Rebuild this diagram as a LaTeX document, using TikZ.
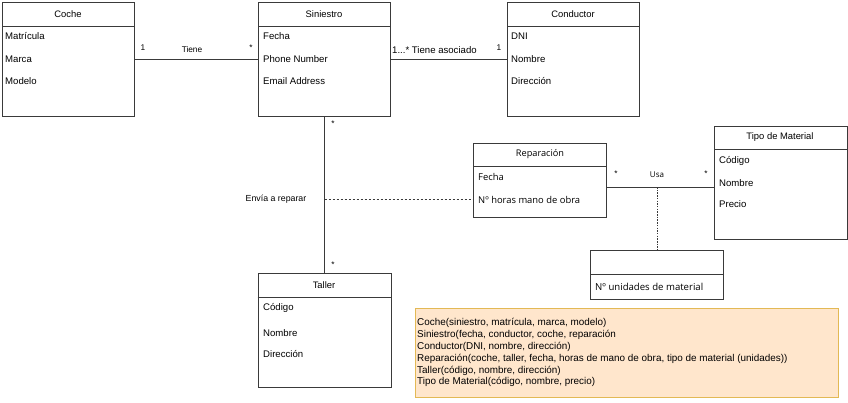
\documentclass[tikz,border=0pt]{standalone}
\usepackage{fontspec}
\setmainfont{Liberation Sans}
\newfontfamily\opensans{Open Sans}
\begin{document}
\begin{tikzpicture}[x=1pt,y=-1pt,
  umlbox/.style={draw=boxgray, line width=1pt, fill=white, rectangle, inner sep=0pt, anchor=north west},
  sepline/.style={draw=boxgray, line width=1pt},
  conn/.style={draw=boxgray, line width=0.9pt},
  ttl/.style={font=\fontsize{9.4}{10}\selectfont, inner sep=0pt, anchor=center},
  attr/.style={font=\fontsize{9.6}{10}\selectfont, inner sep=0pt, anchor=west},
  attrb/.style={font=\opensans\fontsize{9.4}{10}\selectfont, inner sep=0pt, anchor=west},
  ttlb/.style={font=\opensans\fontsize{9.2}{10}\selectfont, inner sep=0pt, anchor=center},
  lbl/.style={font=\fontsize{8.3}{9}\selectfont, inner sep=0pt},
  notebox/.style={draw=noteborder, fill=notefill, line width=1.2pt, rectangle, inner sep=0pt, anchor=north west},
  notetext/.style={font=\fontsize{9.9}{11.9}\selectfont, inner sep=0pt, anchor=north west, align=left}
]
\definecolor{boxgray}{HTML}{3A3A3A}
\definecolor{noteborder}{HTML}{E3B955}
\definecolor{notefill}{HTML}{FFE6CC}
\useasboundingbox (0,0) rectangle (848,402);

% Coche
\node[umlbox, minimum width=132pt, minimum height=114pt] (coche) at (2,2) {};
\draw[sepline] (2,26) -- (134,26);
\node[ttl] (cocheT) at (68,14) {Coche};
\node[attr] (coche1) at (5,36) {Matrícula};
\node[attr] (coche2) at (5,59) {Marca};
\node[attr] (coche3) at (5,81) {Modelo};

% Siniestro
\node[umlbox, minimum width=132pt, minimum height=114pt] (sin) at (258,2) {};
\draw[sepline] (258,26) -- (390,26);
\node[ttl] (sinT) at (324,14) {Siniestro};
\node[attr] (sin1) at (263,36) {Fecha};
\node[attr] (sin2) at (263,59) {Phone Number};
\node[attr] (sin3) at (263,81) {Email Address};

% Conductor
\node[umlbox, minimum width=132pt, minimum height=114pt] (con) at (507,2) {};
\draw[sepline] (507,26) -- (639,26);
\node[ttl] (conT) at (573,14) {Conductor};
\node[attr] (con1) at (511,36) {DNI};
\node[attr] (con2) at (511,59) {Nombre};
\node[attr] (con3) at (511,81) {Dirección};

% Reparacion
\node[umlbox, minimum width=133pt, minimum height=74pt] (rep) at (473,143) {};
\draw[sepline] (473,166) -- (606,166);
\node[ttlb] (repT) at (540,154) {Reparación};
\node[attrb] (rep1) at (478,177) {Fecha};
\node[attrb] (rep2) at (478,200) {Nº horas mano de obra};

% Tipo de Material
\node[umlbox, minimum width=133pt, minimum height=113pt] (tipo) at (714,126) {};
\draw[sepline] (714,149) -- (847,149);
\node[ttl] (tipoT) at (780,137) {Tipo de Material};
\node[attr] (tipo1) at (719,161) {Código};
\node[attr] (tipo2) at (719,183) {Nombre};
\node[attr] (tipo3) at (719,204) {Precio};

% Association class
\node[umlbox, minimum width=133pt, minimum height=49pt] (ac) at (590,250) {};
\draw[sepline] (590,274.5) -- (723,274.5);
\node[attrb, font=\opensans\fontsize{9.6}{10}\selectfont] (ac1) at (595,287) {Nº unidades de material};

% Taller
\node[umlbox, minimum width=133pt, minimum height=114pt] (tal) at (257.5,273) {};
\draw[sepline] (257.5,297) -- (390.5,297);
\node[ttl] (talT) at (324,285) {Taller};
\node[attr] (tal1) at (263,308) {Código};
\node[attr] (tal2) at (263,333) {Nombre};
\node[attr] (tal3) at (263,354) {Dirección};

% Connectors
\draw[conn] (coche.east) -- (sin.west);
\node[lbl] (l1) at (143,48) {1};
\node[lbl] (l2) at (192,50) {Tiene};
\node[lbl] (l3) at (251,48) {*};

\draw[conn] (sin.east) -- (con.west);
\node[lbl, anchor=west, font=\fontsize{9.6}{10}\selectfont] (l4) at (392,50) {1...* Tiene asociado};
\node[lbl] (l5) at (499,48) {1};

\draw[conn] (sin.south) -- (tal.north);
\node[lbl] (l6) at (333,124) {*};
\node[lbl] (l7) at (333,265) {*};

\coordinate (mid) at (sin.south |- 0,199);
\draw[conn, dash pattern=on 2.5pt off 1.5pt] (mid) -- (rep.west |- mid);
\node[lbl, font=\fontsize{8.8}{10}\selectfont] (l8) at (276,199) {Envía a reparar};

\coordinate (usaL) at (rep.east |- 0,187);
\coordinate (usaM) at (ac.north |- 0,187);
\draw[conn] (usaL) -- (tipo.west |- usaL);
\draw[conn, dash pattern=on 1.5pt off 1.2pt] (usaM) -- (ac.north);
\node[lbl] (l9) at (616,174) {*};
\node[ttlb, font=\opensans\fontsize{8}{9}\selectfont] (l10) at (657,175) {Usa};
\node[lbl] (l11) at (706,174) {*};

% Note
\node[notebox, minimum width=423pt, minimum height=89pt] (note) at (415,308) {};
\node[notetext] (noteT) at (417,318) {Coche(siniestro, matrícula, marca, modelo)\\
Siniestro(fecha, conductor, coche, reparación\\
Conductor(DNI, nombre, dirección)\\
Reparación(coche, taller, fecha, horas de mano de obra, tipo de material (unidades))\\
Taller(código, nombre, dirección)\\
Tipo de Material(código, nombre, precio)};
\end{tikzpicture}
\end{document}
